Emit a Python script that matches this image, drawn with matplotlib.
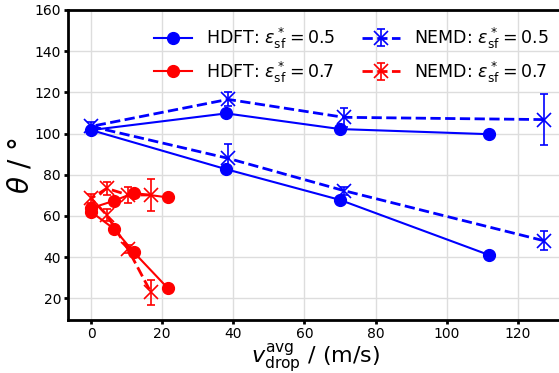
import numpy as np
import matplotlib.pyplot as plt

# HDFT eps_sf = 0.5
hdft05_v = [112, 70, 38, 0, 38, 70, 112]
hdft05_theta = [99.7, 102.2, 109.8, 101.7, 82.7, 67.8, 41.0]
# HDFT eps_sf = 0.7
hdft07_v = [21.6, 12.0, 6.5, 0, 0, 6.5, 12.0, 21.6]
hdft07_theta = [69.0, 71.2, 67.4, 63.8, 62.0, 53.7, 42.4, 24.9]
# NEMD eps_sf = 0.5
nemd05_v = [127.3, 71.1, 38.5, 0, 38.5, 71.1, 127.3]
nemd05_theta = [106.8, 107.9, 116.6, 103.5, 88.0, 72.3, 48.0]
nemd05_err = [12.3, 4.7, 3.4, 2.0, 6.8, 2.0, 4.7]
# NEMD eps_sf = 0.7
nemd07_v = [16.8, 10.4, 4.4, 0, 4.4, 10.4, 16.8]
nemd07_theta = [70.2, 70.2, 73.4, 68.5, 60.5, 43.8, 23.0]
nemd07_err = [7.9, 3.7, 3.3, 2.0, 3.0, 2.0, 6.0]

fig = plt.figure(figsize=(5.59, 3.73), dpi=100)
ax = fig.add_axes([68/559, 53/373, (564-68)/559, (363-53)/373])

ax.plot(hdft05_v, hdft05_theta, '-o', color='blue', lw=1.5, ms=8.5,
        label=r'HDFT: $\varepsilon_{\rm sf}^* = 0.5$', zorder=3)
ax.plot(hdft07_v, hdft07_theta, '-o', color='red', lw=1.5, ms=8.5,
        label=r'HDFT: $\varepsilon_{\rm sf}^* = 0.7$', zorder=3)
ax.errorbar(nemd05_v, nemd05_theta, yerr=nemd05_err, fmt='--x', color='blue',
            lw=2, ms=10, mew=1.2, elinewidth=1.2, capsize=3,
            label=r'NEMD: $\varepsilon_{\rm sf}^* = 0.5$', zorder=3)
ax.errorbar(nemd07_v, nemd07_theta, yerr=nemd07_err, fmt='--x', color='red',
            lw=2, ms=10, mew=1.2, elinewidth=1.2, capsize=3,
            label=r'NEMD: $\varepsilon_{\rm sf}^* = 0.7$', zorder=3)

ax.set_xlim(-6.5, 133)
ax.set_ylim(9.5, 160)
ax.set_xticks(np.arange(0, 121, 20))
ax.set_yticks(np.arange(20, 161, 20))
ax.grid(color='#dddddd', lw=1)
ax.set_axisbelow(True)
for s in ax.spines.values():
    s.set_linewidth(2)
ax.tick_params(width=2, length=3, pad=2, labelsize=10)

ax.set_xlabel(r'$v_{\rm drop}^{\rm avg}$ / (m/s)', fontsize=16, labelpad=0)
ax.set_ylabel(r'$\theta$ / $\degree$', fontsize=20, labelpad=0)

ax.legend(ncol=2, fontsize=12.5, frameon=False, loc='upper right',
          bbox_to_anchor=(1.0, 1.0), columnspacing=1.5, handlelength=2.2)

fig.savefig('out.png', dpi=100)
